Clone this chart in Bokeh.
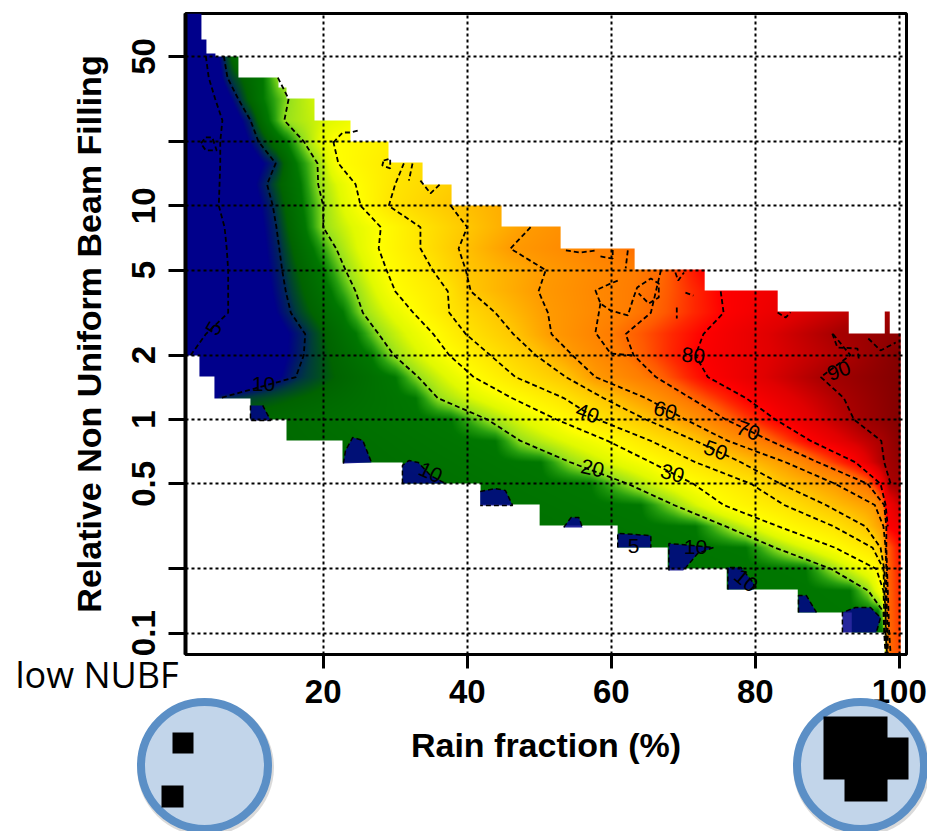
import numpy as np
from bokeh.plotting import figure
from bokeh.models import Range1d, FixedTicker
from bokeh.core.properties import value
from bokeh.embed import file_html
from bokeh.resources import INLINE

n = float("nan")

# NUBF rows (0.1 decade apart), top to bottom
rows_nubf = [79.4, 63.1, 50.1, 39.8, 31.6, 25.1, 20, 15.8, 12.6, 10, 7.94, 6.31, 5, 3.98, 3.16, 2.51,
             2, 1.58, 1.26, 1, 0.794, 0.631, 0.5, 0.398, 0.316, 0.251, 0.2, 0.158, 0.126, 0.1, 0.0795]

# Rain fraction (%) at which each level is crossed along each NUBF row
c5 = [n, 3.4, 3.7, 4.1, 5.0, 6.0, 5.7, 5.7, 5.6, 5.5, 6.3, 6.6, 6.8, 6.8, 6.8, 3.7, 1.6] + [n] * 14
c10 = [4.5, 5.3, 6.2, 6.7, 8.2, 9.9, 11.0, 13.4, 12.2, 13.0, 13.5, 13.9, 14.3, 14.8, 15.5, 17.5, 17.3, 16.2, 5.7] + [n] * 12
c15 = [9, 9, 8.5, 11.6, 11.6, 12.4, 14.8, 16.2, 16.8, 17.1, 17.5, 18.5, 19.9, 21.0, 22.7, 24.5, 26.6, 30.0, 32.8, 37.7,
       43.9, 50.2, 57.1, 64.1, 71.7, 78.7, 87.0, 93.2, 97.1, 97.8, 97.9]
c20 = [12, 12, 13, 13.7, 15.2, 14.6, 17.3, 19.2, 19.3, 20.0, 20.0, 21.8, 23.1, 24.5, 25.5, 27.7, 29.8, 33.2, 35.9, 42.8,
       47.4, 54.3, 62.3, 68.7, 75.9, 82.8, 90.5, 95.7, 97.8, 97.9, 98.1]
c30 = [22, 22, 22, 24, 24, 27, 21.4, 22.1, 24.5, 25.2, 28.0, 27.7, 28.8, 30.0, 32.5, 35.3, 37.5, 40.9, 46.2, 52.4,
       59.5, 65.5, 71.4, 75.6, 83.2, 91.1, 96.8, 97.8, 97.9, 98.0, 98.2]
c40 = [35, 35, 35, 35, 35, 35, 35, 31.2, 30.0, 29.1, 33.5, 33.5, 35.2, 37.3, 37.5, 39.8, 43.2, 46.7, 53.4, 58.1,
       65.5, 71.7, 79.4, 84.0, 90.9, 96.3, 97.8, 97.9, 98.1, 98.1, 98.3]
c50 = [50, 50, 50, 50, 50, 50, 46, 42, 40.5, 37.7, 40.0, 38.8, 39.8, 40.5, 43.9, 46.4, 49.5, 53.7, 58.9, 64.8,
       71.7, 78.0, 83.5, 89.8, 95.3, 97.4, 97.9, 98.1, 98.1, 98.2, 98.3]
c60 = [60] * 8 + [55, 50.2, 48.8, 46.0, 50.9, 49.9, 51.2, 51.7, 54.6, 57.8, 64.8, 70.3,
                  76.2, 84.2, 91.1, 96.6, 97.8, 98.1, 98.2, 98.2, 98.3, 98.4, 98.4]
c70 = [70] * 8 + [68, 66, 65, 64, 66.9, 66.2, 65.5, 62.0, 63.1, 66.2, 71.0, 75.9,
                  82.1, 88.7, 95.6, 97.9, 98.2, 98.2, 98.3, 98.4, 98.5, 98.6, 98.8]
c80 = [80] * 12 + [73.1, 75.2, 75.6, 72.8, 71.7, 73.4, 78.7, 82.8, 87.7, 93.9, 97.4, 98.1, 98.4] + [n] * 6
c90 = [n] * 14 + [97.4, 90.8, 93.2, 89.1, 92.3, 93.7, 97.5, 97.9, 98.8] + [n] * 8
left_value = [3] * 19 + [12] * 12
right_value = [88] * 14 + [92, 96, 98, 98, 98, 98, 97, 95, 92, 88, 83, 80, 78, 77, 76, 75, 74]

# Stepped upper and lower limit of the data
top_x = [3, 3.7, 5, 8.1, 13.7, 14.8, 18.8, 23.8, 29.1, 33.7, 37.8, 44.8, 53, 63.2, 73, 83.1, 93, 98.1, 98.8, 100.2]
top_nubf = [79.4, 60, 52, 50, 40, 36, 32, 25, 20, 16, 12.6, 10, 8, 6.3, 5, 4, 3.2, 2.5, 3.2, 2.5]
bottom_x = [2.7, 4.8, 9.9, 14.8, 22.7, 31, 41.8, 50, 60.9, 67.8, 76, 86, 93.5, 98, 100.2]
bottom_nubf = [2, 1.6, 1.26, 1, 0.8, 0.63, 0.5, 0.4, 0.32, 0.25, 0.2, 0.16, 0.125, 0.1, 0.0795]

# Small low-value pockets along the lower limit: x (%), log10(NUBF)
pocket_x = [[9.9, 9.9, 12.7, 11.6], [22.8, 23.1, 24.1, 25.5, 26.7], [31, 31, 31.9, 33.2, 34.9, 37],
            [41.8, 43.9, 45.3, 46.3, 41.8], [53.4, 54.4, 55.5, 56], [60.9, 60.9, 65.5, 65.5],
            [68, 68, 74.2, 72, 70], [76.2, 76.2, 78, 79.8, 79.8], [86, 86, 87.1, 88.5],
            [92.1, 92.1, 93.9, 96, 97.4, 96.8]]
pocket_log = [[.066, -.005, -.005, .066], [-.206, -.145, -.084, -.098, -.201], [-.3, -.215, -.192, -.201, -.262, -.3],
              [-.337, -.323, -.332, -.402, -.402], [-.505, -.459, -.459, -.505], [-.599, -.533, -.543, -.599],
              [-.707, -.58, -.599, -.627, -.707], [-.796, -.693, -.693, -.767, -.796], [-.903, -.824, -.824, -.903],
              [-.997, -.903, -.88, -.88, -.927, -.997]]

# Other short contour pieces: x (%), log10(NUBF)
strand_x = [[60.9, 59.9, 57.8, 58.5, 59.9, 62.3, 63.1, 63.6, 65.5, 66.6, 66.6, 65.2, 63.8], [58.5, 57.8, 59.9, 63.1],
            [53.7, 55.7, 57.8], [58.5, 60.2, 60.2], [62.3, 62.0], [68.9, 69.3, 70.1], [69.1, 69.1], [70.3, 71.4],
            [83.1, 84.2, 84.9], [90.7, 91.4, 94.2, 94.4], [95.7, 97.4, 99.5], [28.4, 29.3, 29.3, 28.2, 28.4],
            [32.4, 31.9], [33.5, 34.9, 36.3], [21.4, 22.7, 23.8, 24.8], [3.7, 4.6, 5.2, 3.7, 3.0, 3.7]]
strand_log = [[.650, .636, .604, .543, .510, .487, .571, .618, .660, .636, .571, .543, .590], [.543, .407, .309, .299],
              [.791, .781, .791], [.763, .753, .800], [.791, .707], [.688, .650, .688], [.524, .473], [.594, .580],
              [.501, .477, .501], [.402, .337, .332, .276], [.379, .323, .360], [1.212, 1.221, 1.175, 1.189, 1.212],
              [1.198, 1.118], [1.118, 1.058, 1.104], [1.296, 1.343, 1.343, 1.352], [1.32, 1.32, 1.259, 1.259, 1.292, 1.32]]

# Contour labels
lab_text = ["5", "10", "10", "5", "10", "10", "20", "30", "40", "50", "60", "70", "80", "90"]
lab_x = [4.8, 11.7, 34.9, 63.1, 71.7, 78.7, 57.4, 68.5, 56.7, 74.5, 67.5, 79, 71.4, 91.6]
lab_log = [.426, .164, -.248, -.59, -.595, -.754, -.229, -.253, .028, -.145, .042, -.052, .299, .229]
lab_angle = [60, 0, -25, 0, 0, -40, -12, -15, -20, -20, -15, -20, -5, 20]

x_ticks = [20, 40, 60, 80, 100]
y_ticks = [0.1, 0.2, 0.5, 1, 2, 5, 10, 20, 50]
y_tick_labels = {0.1: "0.1", 0.2: "", 0.5: "0.5", 1: "1", 2: "2", 5: "5", 10: "10", 20: "", 50: "50"}

stop_v = [0, 9, 10.5, 12, 15, 17, 19, 20, 25, 30, 40, 50, 60, 68, 72, 76, 80, 85, 90, 100]
stop_r = [0, 0, 0, 0, 0, 40, 110, 150, 225, 255, 255, 255, 255, 255, 255, 255, 255, 225, 170, 120]
stop_g = [0, 0, 60, 100, 120, 160, 205, 225, 250, 255, 230, 200, 155, 125, 90, 40, 0, 0, 0, 0]
stop_b = [139, 139, 60, 0, 0, 15, 25, 30, 0, 0, 0, 0, 0, 0, 0, 0, 0, 0, 0, 0]

X0, X1, Y0, Y1 = 0.875, 101.0, 0.0795, 79.4

p = figure(width=927, height=831, output_backend="svg", toolbar_location=None,
           x_range=Range1d(X0, X1), y_range=Range1d(Y0, Y1), y_axis_type="log",
           min_border_left=185, min_border_right=21, min_border_top=13, min_border_bottom=177)

# colour field
levels = [10, 15, 20, 30, 40, 50, 60, 70, 80, 90]
table = np.array([c10, c15, c20, c30, c40, c50, c60, c70, c80, c90], float)
xf = np.linspace(1, 100.2, 714)
lr = np.log10(rows_nubf)
zrows = []
for i in range(len(rows_nubf)):
    ok = ~np.isnan(table[:, i])
    xp = np.r_[1.0, table[ok, i], 100.5]
    fp = np.r_[left_value[i], np.array(levels)[ok], right_value[i]]
    zrows.append(np.interp(xf, np.maximum.accumulate(xp), fp))
zrows = np.array(zrows)
lf = np.linspace(np.log10(Y0), np.log10(Y1), 640)
Z = np.array([np.interp(lf, lr[::-1], zrows[::-1, j]) for j in range(xf.size)]).T

top_idx = np.minimum(np.searchsorted(top_x, xf), len(top_x) - 1)
bot_idx = np.minimum(np.searchsorted(bottom_x, xf), len(bottom_x) - 1)
top_lim = np.log10(np.array(top_nubf))[top_idx]
bot_lim = np.log10(np.array(bottom_nubf))[bot_idx]
mask = (lf[:, None] <= top_lim[None, :]) & (lf[:, None] >= bot_lim[None, :])

rgba = np.zeros(Z.shape + (4,), dtype=np.uint8)
rgba[..., 0] = np.interp(Z, stop_v, stop_r)
rgba[..., 1] = np.interp(Z, stop_v, stop_g)
rgba[..., 2] = np.interp(Z, stop_v, stop_b)
rgba[..., 3] = np.where(mask, 255, 0)
img = rgba.view(np.uint32).reshape(Z.shape)
p.image_rgba(image=[img], x=[1], y=[Y0], dw=[99.2], dh=[Y1 - Y0])

# pockets
p.patches([list(a) for a in pocket_x], [list(10 ** np.array(a)) for a in pocket_log],
          fill_color="#00008B", fill_alpha=0.85, line_color=None)


def inside(x, v):
    i = min(int(np.searchsorted(top_x, x)), len(top_x) - 1)
    j = min(int(np.searchsorted(bottom_x, x)), len(bottom_x) - 1)
    return v <= top_nubf[i] * 1.03 and v >= bottom_nubf[j] * 0.97


DASH = "5 3"
for c in [c5, c10, c20, c30, c40, c50, c60, c70, c80, c90]:
    pts = [(x, v) for x, v in zip(c, rows_nubf) if not np.isnan(x) and inside(x, v)]
    p.line([a for a, _ in pts], [b for _, b in pts], line_color="black", line_width=1.8, line_dash=DASH)

p.multi_line([list(a) for a in strand_x], [list(10 ** np.array(a)) for a in strand_log],
             line_color="black", line_width=1.8, line_dash=DASH)
p.multi_line([list(a) for a in pocket_x], [list(10 ** np.array(a)) for a in pocket_log],
             line_color="black", line_width=1.5, line_dash=DASH)

p.text(lab_x, list(10 ** np.array(lab_log)), text=lab_text, angle=lab_angle, angle_units="deg",
       text_font=value("Liberation Sans"), text_font_size="21px", text_color="black",
       text_align="center", text_baseline="middle")

# axes, grid, frame
p.xaxis.ticker = FixedTicker(ticks=x_ticks)
p.yaxis.ticker = FixedTicker(ticks=y_ticks)
p.yaxis.major_label_overrides = y_tick_labels
p.yaxis.major_label_orientation = "vertical"
for ax in (p.xaxis[0], p.yaxis[0]):
    ax.minor_tick_line_color = None
    ax.major_tick_in = 0
    ax.major_tick_line_color = "black"
    ax.major_tick_line_width = 3
    ax.axis_line_color = "black"
    ax.major_label_text_font = "Liberation Sans"
    ax.major_label_text_font_style = "bold"
    ax.major_label_text_color = "black"
    ax.major_label_text_font_size = "33px"
    ax.axis_label_text_font = "Liberation Sans"
    ax.axis_label_text_font_style = "bold"
    ax.axis_label_text_color = "black"
p.xaxis.major_tick_out = 14
p.yaxis.major_tick_out = 17
p.xaxis.axis_line_width = 3
p.yaxis.axis_line_width = 4
p.xaxis.major_label_standoff = 11
p.yaxis.major_label_standoff = 13
p.xaxis.axis_label = "Rain fraction (%)"
p.yaxis.axis_label = "Relative Non Uniform Beam Filling"
p.xaxis.axis_label_text_font_size = "34px"
p.yaxis.axis_label_text_font_size = "34px"
p.xaxis.axis_label_standoff = 20
p.yaxis.axis_label_standoff = 22

p.xgrid.ticker = FixedTicker(ticks=x_ticks)
p.ygrid.ticker = FixedTicker(ticks=y_ticks)
for g in (p.xgrid[0], p.ygrid[0]):
    g.grid_line_color = "black"
    g.grid_line_dash = "3 3"
    g.grid_line_width = 2
    g.level = "guide"
p.outline_line_color = "black"
p.outline_line_width = 3
p.background_fill_color = "white"
p.border_fill_color = "white"

# Transparent overlay in page pixels for the two sketches and the note under the plot
q = figure(width=927, height=831, output_backend="svg", toolbar_location=None,
           x_range=Range1d(0, 927), y_range=Range1d(831, 0),
           x_axis_location=None, y_axis_location=None,
           min_border=0, min_border_left=0, min_border_right=0, min_border_top=0, min_border_bottom=0,
           background_fill_color=None, border_fill_color=None, outline_line_color=None,
           stylesheets=[":host{position:absolute !important;left:0;top:0;pointer-events:none;}"])
q.grid.visible = False

disc_x = [204, 860]
disc_y = [765, 765]
q.circle([x + 1 for x in disc_x], [y + 2 for y in disc_y], radius=68.5, fill_color="#555555", fill_alpha=0.22, line_color=None)
q.circle(disc_x, disc_y, radius=63.5, fill_color="#C2D5EA", line_color="#5B8FC6", line_width=8)
sq_left = [172, 161, 823, 880, 844]
sq_top = [732, 785, 716, 737, 770]
sq_right = [193, 183, 887, 908, 887]
sq_bottom = [753, 807, 779, 779, 801]
q.quad(left=sq_left, right=sq_right, top=sq_top, bottom=sq_bottom, fill_color="black", line_color=None)
q.text([15], [674], text=["low NUBF"], text_font=value("Open Sans"), text_font_size="36px",
       text_color="black", text_align="left", text_baseline="middle")

open("out.html", "w").write(file_html([p, q], INLINE))
